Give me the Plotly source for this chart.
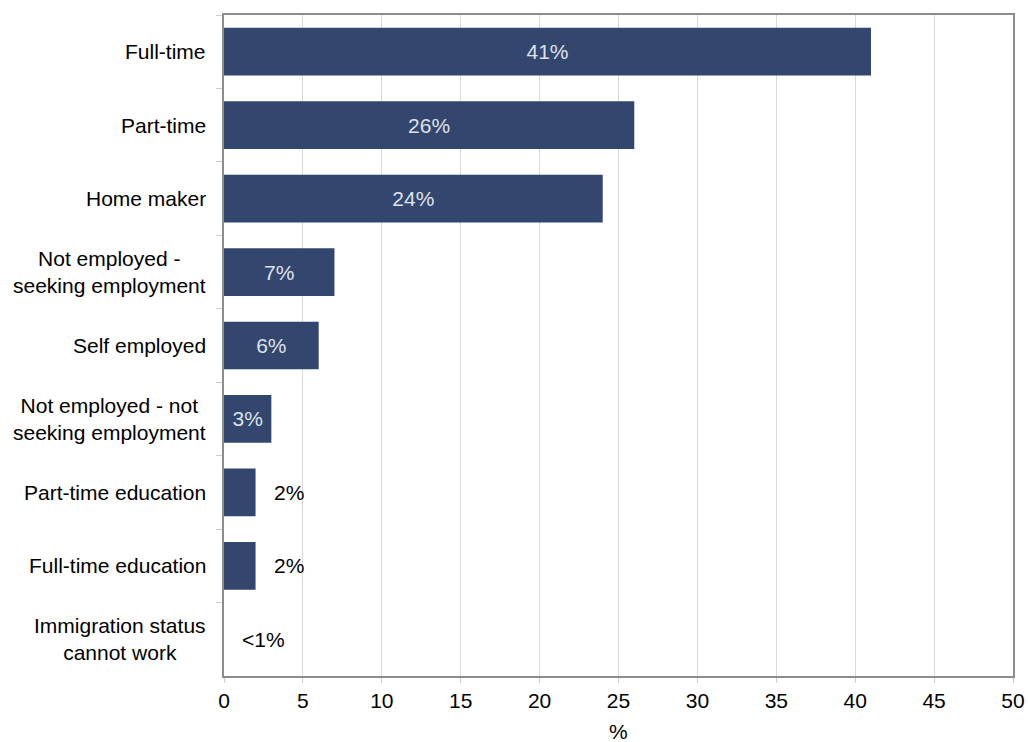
import plotly.graph_objects as go

# Employment status of respondents
categories = [
    "Full-time",
    "Part-time",
    "Home maker",
    "Not employed -<br>seeking employment",
    "Self employed",
    "Not employed - not<br>seeking employment",
    "Part-time education",
    "Full-time education",
    "Immigration status<br>cannot work",
]
values = [41, 26, 24, 7, 6, 3, 2, 2, 0]
value_labels = ["41%", "26%", "24%", "7%", "6%", "3%", "2%", "2%", "<1%"]
x_ticks = [0, 5, 10, 15, 20, 25, 30, 35, 40, 45, 50]

BAR = "#33466d"
FONT = "Liberation Sans, Arial, sans-serif"
FS = 21
INSIDE_MIN = 3  # bars at least this long carry their label inside

inside_text = [t if v >= INSIDE_MIN else "" for v, t in zip(values, value_labels)]

fig = go.Figure(
    go.Bar(
        y=categories,
        x=values,
        orientation="h",
        width=0.65,
        marker=dict(color=BAR, line=dict(width=0)),
        text=inside_text,
        textposition="inside",
        insidetextanchor="middle",
        textangle=0,
        textfont=dict(family=FONT, size=FS, color="#dde2ee"),
        hoverinfo="skip",
    )
)

annotations = []
# labels beyond the end of short bars
for cat, v, t in zip(categories, values, value_labels):
    if v < INSIDE_MIN:
        annotations.append(
            dict(
                x=v, y=cat, xref="x", yref="y", text=t, showarrow=False,
                xanchor="left", yanchor="middle", xshift=16,
                font=dict(family=FONT, size=FS, color="#000000"),
            )
        )
# category labels, centre-aligned on multiple lines
for cat in categories:
    annotations.append(
        dict(
            x=0, y=cat, xref="paper", yref="y", text=cat, showarrow=False,
            xanchor="right", yanchor="middle", xshift=-16, align="center",
            font=dict(family=FONT, size=FS, color="#000000"),
        )
    )
# x-axis title
annotations.append(
    dict(
        x=0.5, y=0, xref="paper", yref="paper", text="%", showarrow=False,
        xanchor="center", yanchor="middle", yshift=-55,
        font=dict(family=FONT, size=FS, color="#000000"),
    )
)

fig.update_layout(
    width=1028,
    height=742,
    margin=dict(l=224, r=15, t=15, b=66, autoexpand=False),
    paper_bgcolor="white",
    plot_bgcolor="white",
    showlegend=False,
    font=dict(family=FONT, size=FS, color="#000000"),
    annotations=annotations,
    xaxis=dict(
        range=[0, 50],
        tickvals=x_ticks,
        ticktext=[str(t) for t in x_ticks],
        automargin=False,
        showgrid=True,
        gridcolor="#d9d9d9",
        gridwidth=1,
        zeroline=False,
        showline=True,
        linecolor="#8c8c8c",
        linewidth=2,
        mirror=True,
        ticks="outside",
        ticklen=5,
        tickcolor="#cccccc",
        tickfont=dict(family=FONT, size=FS, color="#000000"),
    ),
    yaxis=dict(
        type="category",
        autorange="reversed",
        automargin=False,
        showticklabels=False,
        showgrid=False,
        zeroline=False,
        showline=True,
        linecolor="#8c8c8c",
        linewidth=2,
        mirror=True,
        ticks="outside",
        tickson="boundaries",
        ticklen=6,
        tickcolor="#cccccc",
    ),
)

fig.write_html("out.html")
